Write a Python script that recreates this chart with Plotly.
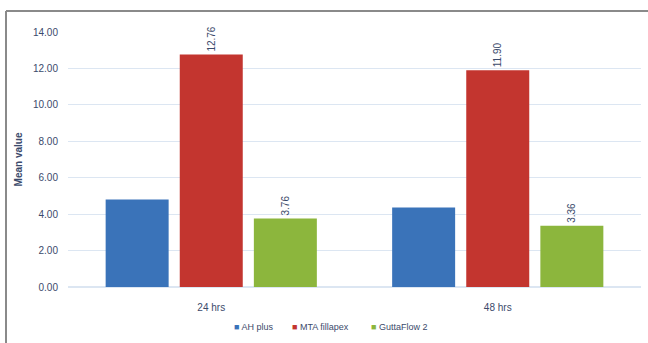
import plotly.graph_objects as go

categories = ["24 hrs", "48 hrs"]
ah_plus = [4.80, 4.36]
mta_fillapex = [12.76, 11.90]
guttaflow2 = [3.76, 3.36]
y_ticks = [0, 2, 4, 6, 8, 10, 12, 14]
series_names = ["AH plus", "MTA fillapex", "GuttaFlow 2"]
series_colors = ["#3a73b9", "#c3352f", "#8cb63d"]

txt_col = "#3b4a6b"
W, H = 648, 343
L, R, T, B = 68, 7, 32, 56
pw, ph = W - L - R, H - T - B

fig = go.Figure()
fig.add_trace(go.Bar(name=series_names[0], x=categories, y=ah_plus, marker_color=series_colors[0],
                     marker_line_width=0))
fig.add_trace(go.Bar(name=series_names[1], x=categories, y=mta_fillapex, marker_color=series_colors[1],
                     marker_line_width=0, text=[f"{v:.2f}" for v in mta_fillapex],
                     textposition="outside", textangle=-90, cliponaxis=False,
                     textfont=dict(size=10, color=txt_col)))
fig.add_trace(go.Bar(name=series_names[2], x=categories, y=guttaflow2, marker_color=series_colors[2],
                     marker_line_width=0, text=[f"{v:.2f}" for v in guttaflow2],
                     textposition="outside", textangle=-90, cliponaxis=False,
                     textfont=dict(size=10, color=txt_col)))

fig.update_layout(
    width=W, height=H,
    margin=dict(l=L, r=R, t=T, b=B, autoexpand=False),
    paper_bgcolor="white", plot_bgcolor="white",
    barmode="group", bargap=0.224, bargroupgap=0.15,
    font=dict(family="Liberation Sans, Arial, sans-serif", size=10, color=txt_col),
    xaxis=dict(showgrid=False, showline=False, ticks="", ticklabelstandoff=13,
               tickfont=dict(size=10, color=txt_col)),
    yaxis=dict(range=[0, 14], tickvals=y_ticks, ticktext=[f"{v:.2f}" for v in y_ticks],
               showgrid=True, gridcolor="#dce6f2", gridwidth=1, zeroline=True,
               zerolinecolor="#dce6f2", ticks="", ticklabelstandoff=9,
               tickfont=dict(size=10, color=txt_col),
               title=dict(text="<b>Mean value</b>", font=dict(size=10, color=txt_col), standoff=8)),
    showlegend=False,
)

# legend drawn as annotations
legend_x = [232, 290, 369]
for name, col, xp in zip(series_names, series_colors, legend_x):
    fig.add_annotation(xref="paper", yref="paper", x=(xp - L) / pw, y=(H - B - 327) / ph,
                       xanchor="left", yanchor="middle", showarrow=False,
                       text=f'<span style="color:{col};font-size:9px">■</span> {name}',
                       font=dict(size=9, color=txt_col))

# outer frame (left and top edges)
fx0, fy0 = (6 - L) / pw, (H - B - 11) / ph
fig.add_shape(type="line", xref="paper", yref="paper", x0=fx0, x1=fx0, y0=fy0, y1=(H - B - 345) / ph,
              line=dict(color="#8a8a8a", width=2))
fig.add_shape(type="line", xref="paper", yref="paper", x0=fx0, x1=(650 - L) / pw, y0=fy0, y1=fy0,
              line=dict(color="#8a8a8a", width=2))
fig.write_html("out.html")
